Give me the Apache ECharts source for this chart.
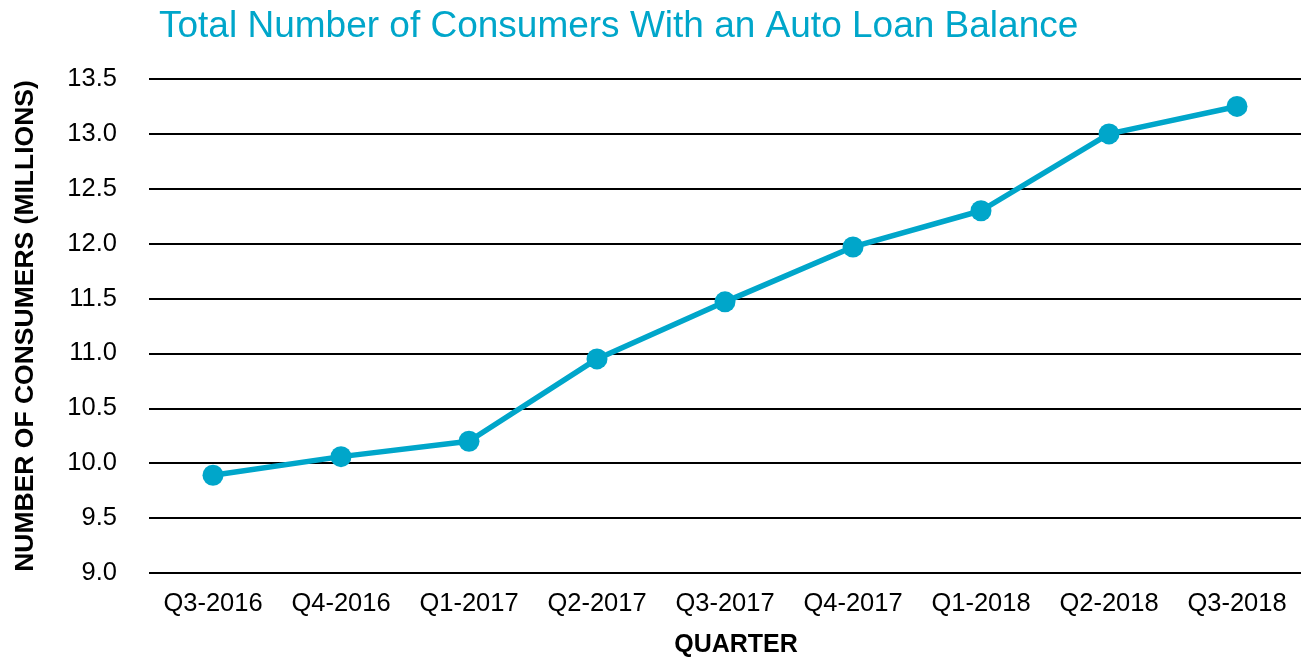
<!DOCTYPE html>
<html>
<head>
<meta charset="utf-8">
<script src="https://cdn.jsdelivr.net/npm/echarts@6/dist/echarts.min.js"></script>
<style>
  html, body { margin: 0; padding: 0; background: #fff; }
  #chart { width: 1301px; height: 663px; }
</style>
</head>
<body>
<div id="chart"></div>
<script>
// Quarterly count of consumers holding an auto loan balance (millions)
const quarters = ['Q3-2016', 'Q4-2016', 'Q1-2017', 'Q2-2017', 'Q3-2017', 'Q4-2017', 'Q1-2018', 'Q2-2018', 'Q3-2018'];
const consumers = [9.89, 10.06, 10.20, 10.95, 11.47, 11.97, 12.30, 13.00, 13.25];

const FONT = '"Liberation Sans", Arial, sans-serif';
const TEAL = '#00A6CA';

const chart = echarts.init(document.getElementById('chart'));
chart.setOption({
  animation: false,
  title: {
    text: 'Total Number of Consumers With an Auto Loan Balance',
    left: 154,
    top: 3,
    textStyle: { color: TEAL, fontFamily: FONT, fontSize: 37, fontWeight: 'normal' }
  },
  grid: { left: 149, right: 0, top: 79, bottom: 85 },
  xAxis: {
    type: 'category',
    data: quarters,
    boundaryGap: true,
    name: 'QUARTER',
    nameLocation: 'middle',
    nameGap: 60,
    nameTextStyle: {
      color: '#000', fontFamily: FONT, fontSize: 25, fontWeight: 'bold',
      padding: [0, 0, 0, 22]
    },
    axisLine: { show: false },
    axisTick: { show: false },
    axisLabel: { color: '#000', fontFamily: FONT, fontSize: 25.5, margin: 18, interval: 0 }
  },
  yAxis: {
    type: 'value',
    min: 9.0,
    max: 13.5,
    interval: 0.5,
    name: 'NUMBER OF CONSUMERS (MILLIONS)',
    nameLocation: 'middle',
    nameGap: 110,
    nameRotate: 90,
    nameTextStyle: { color: '#000', fontFamily: FONT, fontSize: 26.5, fontWeight: 'bold' },
    axisLine: { show: false },
    axisTick: { show: false },
    axisLabel: {
      color: '#000', fontFamily: FONT, fontSize: 25.5, margin: 32,
      formatter: v => v.toFixed(1)
    },
    splitLine: { show: true, lineStyle: { color: '#000', width: 2 } }
  },
  series: [{
    type: 'line',
    data: consumers,
    symbol: 'circle',
    symbolSize: 21,
    lineStyle: { color: TEAL, width: 5.5 },
    itemStyle: { color: TEAL }
  }]
});
</script>
</body>
</html>
